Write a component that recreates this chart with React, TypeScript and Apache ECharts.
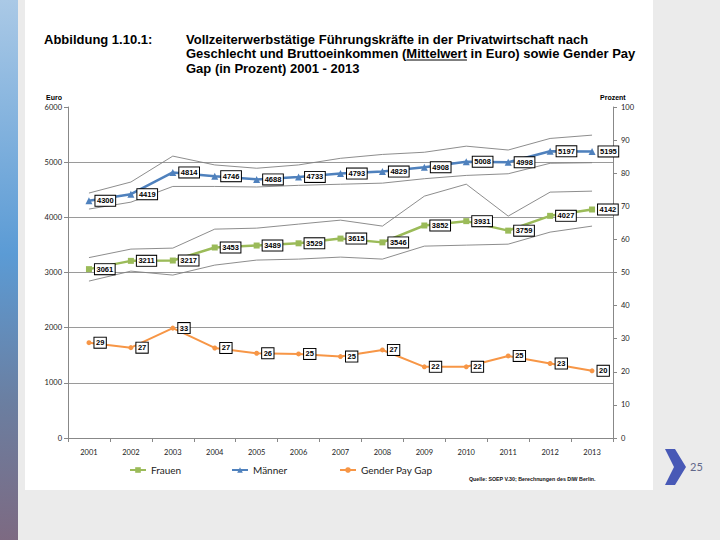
import React, { useEffect, useRef } from 'react';
import * as echarts from 'echarts';

const years = ['2001', '2002', '2003', '2004', '2005', '2006', '2007', '2008', '2009', '2010', '2011', '2012', '2013'];
const frauen = [3061, 3211, 3217, 3453, 3489, 3529, 3615, 3546, 3852, 3931, 3759, 4027, 4142];
const maenner = [4300, 4419, 4814, 4746, 4688, 4733, 4793, 4829, 4908, 5008, 4998, 5197, 5195];
const payGap = [28.8, 27.3, 33.2, 27.2, 25.6, 25.4, 24.6, 26.6, 21.5, 21.5, 24.8, 22.5, 20.3];
const maennerUpper = [4440, 4640, 5110, 4950, 4890, 4950, 5070, 5140, 5180, 5290, 5220, 5430, 5490];
const maennerLower = [4150, 4275, 4560, 4560, 4550, 4580, 4600, 4620, 4700, 4760, 4790, 4980, 4990];
const frauenUpper = [3270, 3424, 3442, 3786, 3804, 3877, 3949, 3841, 4384, 4601, 4022, 4457, 4475];
const frauenLower = [2844, 3025, 2953, 3134, 3225, 3243, 3279, 3243, 3478, 3496, 3514, 3732, 3841];

const titleLabel = 'Abbildung 1.10.1:';
const titleLines = [
  'Vollzeiterwerbstätige Führungskräfte in der Privatwirtschaft nach',
  'Geschlecht und Bruttoeinkommen (Mittelwert in Euro) sowie Gender Pay',
  'Gap (in Prozent) 2001 - 2013',
];
const underlinePrefix = 'Geschlecht und Bruttoeinkommen (';
const underlineWord = 'Mittelwert';
const sourceText = 'Quelle: SOEP V.30; Berechnungen des DIW Berlin.';
const pageNumber = '25';

const BLUE = '#4f81bd';
const GREEN = '#9bbb59';
const ORANGE = '#f79646';

function measure(text: string, font: string): number {
  const ctx = document.createElement('canvas').getContext('2d');
  if (!ctx) return text.length * 6.5;
  ctx.font = font;
  return ctx.measureText(text).width;
}

const dataLabel = {
  show: true,
  position: 'right',
  distance: 3,
  backgroundColor: '#ffffff',
  borderColor: '#000000',
  borderWidth: 1,
  padding: [1.5, 1.5, 0.5, 1.5],
  fontSize: 7.5,
  fontWeight: 'bold',
  fontFamily: '"Liberation Sans", sans-serif',
  color: '#000000',
};

export default function App() {
  const ref = useRef<HTMLDivElement>(null);

  useEffect(() => {
    if (!ref.current) return;
    const chart = echarts.init(ref.current, undefined, { renderer: 'svg' });
    const titleFont = 'bold 13px "Liberation Sans"';
    const ulX = 186 + measure(underlinePrefix, titleFont);
    const ulW = measure(underlineWord, titleFont);

    const band = (name: string, data: number[]) => ({
      name,
      type: 'line',
      data,
      symbol: 'none',
      silent: true,
      z: 1,
      lineStyle: { color: '#808080', width: 0.9 },
      emphasis: { disabled: true },
    });

    const legendBase = {
      top: 465,
      padding: 0,
      itemWidth: 16,
      itemHeight: 7,
      textStyle: { fontFamily: 'Lato', fontSize: 10, color: '#222' },
      selectedMode: false,
    };

    chart.setOption({
      animation: false,
      backgroundColor: '#ebebeb',
      graphic: [
        { type: 'rect', z: -10, silent: true, shape: { x: 0, y: 0, width: 18, height: 540 },
          style: { fill: new echarts.graphic.LinearGradient(0, 0, 0, 1, [
            { offset: 0, color: '#aac9e6' },
            { offset: 0.47, color: '#5b9bd5' },
            { offset: 0.75, color: '#6b7ea0' },
            { offset: 1, color: '#7d6a82' },
          ]) } },
        { type: 'rect', z: -10, silent: true, shape: { x: 25, y: 0, width: 628, height: 490 }, style: { fill: '#ffffff' } },
        { type: 'text', x: 44, y: 39, style: { text: titleLabel, font: titleFont, fill: '#000', verticalAlign: 'middle' } },
        ...titleLines.map((t, i) => ({
          type: 'text', x: 186, y: 39 + i * 14.5,
          style: { text: t, font: titleFont, fill: '#000', verticalAlign: 'middle' },
        })),
        { type: 'line', shape: { x1: ulX, y1: 60, x2: ulX + ulW, y2: 60 }, style: { stroke: '#000', lineWidth: 1 } },
        { type: 'text', x: 62, y: 97, style: { text: 'Euro', font: 'bold 7px "Liberation Sans"', fill: '#000', align: 'right', verticalAlign: 'middle' } },
        { type: 'text', x: 600, y: 97, style: { text: 'Prozent', font: 'bold 7px "Liberation Sans"', fill: '#000', align: 'left', verticalAlign: 'middle' } },
        { type: 'text', x: 469, y: 479, style: { text: sourceText, font: 'bold 5.3px "Liberation Sans"', fill: '#111', verticalAlign: 'middle' } },
        { type: 'polygon', shape: { points: [[665, 449], [675, 449], [686, 467], [675, 485], [665, 485], [674, 467]] }, style: { fill: '#4859b6' } },
        { type: 'text', x: 690, y: 466, style: { text: pageNumber, font: '11px Lato', fill: '#62688a', verticalAlign: 'middle' } },
      ],
      legend: [
        { ...legendBase, left: 129, data: ['Frauen'] },
        { ...legendBase, left: 231, data: ['Männer'] },
        { ...legendBase, left: 339, data: ['Gender Pay Gap'] },
      ],
      grid: { left: 68, right: 107, top: 107, bottom: 102 },
      xAxis: {
        type: 'category',
        data: years,
        boundaryGap: true,
        axisLine: { lineStyle: { color: '#888', width: 1 } },
        axisTick: { show: true, length: 4, lineStyle: { color: '#888' } },
        axisLabel: { fontFamily: 'Lato', fontSize: 7.5, color: '#222', margin: 10 },
      },
      yAxis: [
        {
          type: 'value',
          min: 0, max: 6000, interval: 1000,
          axisLine: { show: true, lineStyle: { color: '#888' } },
          axisTick: { show: true, length: 4, lineStyle: { color: '#888' } },
          axisLabel: { fontFamily: 'Lato', fontSize: 7.5, color: '#222', margin: 6, formatter: (v: number) => String(v) },
          splitLine: { show: true, showMaxLine: false, lineStyle: { color: '#9a9a9a', width: 1 } },
        },
        {
          type: 'value',
          min: 0, max: 100, interval: 10,
          position: 'right',
          axisLine: { show: true, lineStyle: { color: '#888' } },
          axisTick: { show: true, length: 4, lineStyle: { color: '#888' } },
          axisLabel: { fontFamily: 'Lato', fontSize: 7.5, color: '#222', margin: 8 },
          splitLine: { show: false },
        },
      ],
      series: [
        band('Männer oben', maennerUpper),
        band('Männer unten', maennerLower),
        band('Frauen oben', frauenUpper),
        band('Frauen unten', frauenLower),
        {
          name: 'Frauen', type: 'line', data: frauen, z: 3,
          symbol: 'rect', symbolSize: 6,
          itemStyle: { color: GREEN },
          lineStyle: { color: GREEN, width: 2.5 },
          label: { ...dataLabel },
        },
        {
          name: 'Männer', type: 'line', data: maenner, z: 3,
          symbol: 'triangle', symbolSize: 7,
          itemStyle: { color: BLUE },
          lineStyle: { color: BLUE, width: 2.5 },
          label: { ...dataLabel },
        },
        {
          name: 'Gender Pay Gap', type: 'line', data: payGap, yAxisIndex: 1, z: 3,
          symbol: 'circle', symbolSize: 5,
          itemStyle: { color: ORANGE },
          lineStyle: { color: ORANGE, width: 2 },
          label: { ...dataLabel, formatter: (p: any) => String(Math.round(p.value)) },
        },
      ],
    });
    return () => chart.dispose();
  }, []);

  return <div ref={ref} style={{ position: 'fixed', left: 0, top: 0, width: 720, height: 540 }} />;
}
